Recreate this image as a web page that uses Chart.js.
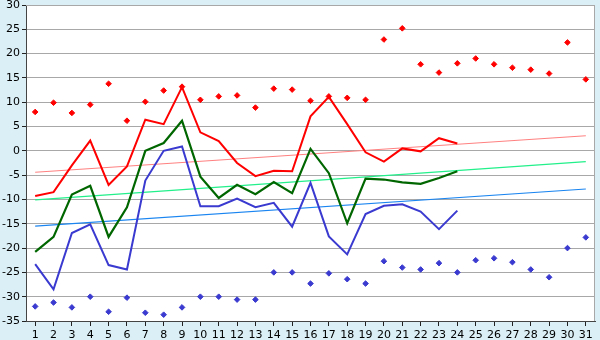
<!DOCTYPE html>
<html>
<head>
<meta charset="utf-8">
<script src="https://cdn.jsdelivr.net/npm/chart.js@4.4.1/dist/chart.umd.min.js"></script>
<style>
  html, body { margin: 0; padding: 0; background: #daeff6; }
  #wrap { width: 600px; height: 340px; }
</style>
</head>
<body>
<div id="wrap"><canvas id="temps" width="600" height="340"></canvas></div>
<script>
"use strict";

// ── Data ──────────────────────────────────────────────────────────────────
const days = Array.from({ length: 31 }, (_, i) => String(i + 1));

const dailyMax = [-9.3, -8.5, -3.0, 2.1, -7.0, -3.2, 6.4, 5.5, 13.1, 3.8,
  2.0, -2.5, -5.2, -4.1, -4.2, 7.1, 11.1, 5.5, -0.3, -2.2,
  0.5, -0.1, 2.6, 1.5];
const dailyMean = [-20.8, -17.7, -9.0, -7.2, -17.7, -11.6, 0.0, 1.6, 6.2, -5.3,
  -9.7, -7.0, -8.9, -6.4, -8.7, 0.4, -4.6, -14.9, -5.7, -5.9,
  -6.5, -6.8, -5.6, -4.2];
const dailyMin = [-23.3, -28.5, -16.9, -15.1, -23.5, -24.4, -6.1, 0.0, 0.9, -11.4,
  -11.4, -9.8, -11.6, -10.7, -15.6, -6.6, -17.6, -21.3, -13.0, -11.3,
  -11.0, -12.5, -16.1, -12.3];

const recordMax = [8.0, 9.9, 7.8, 9.5, 13.8, 6.2, 10.1, 12.4, 13.2, 10.5,
  11.2, 11.4, 8.9, 12.8, 12.6, 10.3, 11.2, 10.9, 10.5, 22.9,
  25.2, 17.8, 16.1, 18.0, 19.0, 17.8, 17.1, 16.7, 15.9, 22.3, 14.7];
const recordMin = [-32.0, -31.2, -32.2, -30.0, -33.1, -30.2, -33.3, -33.7, -32.2, -30.0,
  -30.0, -30.6, -30.6, -25.0, -25.0, -27.3, -25.2, -26.4, -27.3, -22.7,
  -24.0, -24.4, -23.1, -25.0, -22.5, -22.1, -22.9, -24.4, -26.0, -20.0, -17.8];

// trend line end points (day 1 and day 31)
const trendMax  = [-4.4, 3.1];
const trendMean = [-10.1, -2.2];
const trendMin  = [-15.5, -7.85];

const yTicks = { min: -35, max: 30, step: 5 };

function endpoints(pair) {
  const arr = new Array(days.length).fill(null);
  arr[0] = pair[0];
  arr[arr.length - 1] = pair[1];
  return arr;
}

// ── Plot background: white plot area, grey frame on top/right ─────────────
const plotFrame = {
  id: "plotFrame",
  beforeDraw(chart) {
    const { ctx, chartArea: a } = chart;
    ctx.save();
    ctx.fillStyle = "#daeff6";
    ctx.fillRect(0, 0, chart.width, chart.height);
    ctx.fillStyle = "#ffffff";
    ctx.fillRect(a.left, a.top, a.right - a.left, a.bottom - a.top);
    ctx.restore();
  },
  afterDraw(chart) {
    const { ctx, chartArea: a } = chart;
    ctx.save();
    ctx.strokeStyle = "#a8a8a8";
    ctx.lineWidth = 1;
    ctx.beginPath();
    ctx.moveTo(a.left, a.top + 0.5);
    ctx.lineTo(a.right - 0.5, a.top + 0.5);
    ctx.lineTo(a.right - 0.5, a.bottom);
    ctx.stroke();
    ctx.restore();
  }
};

const lineStyle = (color, width) => ({
  borderColor: color,
  backgroundColor: color,
  borderWidth: width,
  pointRadius: 0,
  tension: 0,
  fill: false,
});

const dotStyle = (color) => ({
  borderColor: color,
  backgroundColor: color,
  showLine: false,
  pointStyle: "rectRot",
  pointRadius: 2.8,
  pointBorderWidth: 1,
});

new Chart(document.getElementById("temps"), {
  type: "line",
  data: {
    labels: days,
    datasets: [
      { data: dailyMax,  ...lineStyle("#ff0000", 2) },
      { data: dailyMean, ...lineStyle("#006600", 2.2) },
      { data: dailyMin,  ...lineStyle("#3a3ad0", 2) },
      { data: recordMax, ...dotStyle("#ff0000") },
      { data: recordMin, ...dotStyle("#3a3ad0") },
      { data: endpoints(trendMax),  spanGaps: true, ...lineStyle("#ff8080", 1.2) },
      { data: endpoints(trendMean), spanGaps: true, ...lineStyle("#22f08a", 1.2) },
      { data: endpoints(trendMin),  spanGaps: true, ...lineStyle("#1a85f0", 1.2) },
    ],
  },
  options: {
    responsive: false,
    animation: false,
    layout: { padding: { top: 0, right: 5, left: 0, bottom: 0 } },
    plugins: {
      legend: { display: false },
      tooltip: { enabled: false },
    },
    scales: {
      x: {
        offset: true,
        grid: {
          drawOnChartArea: false,
          drawTicks: true,
          tickLength: 5,
          tickColor: "#222",
        },
        border: { color: "#444", width: 1 },
        ticks: {
          color: "#000",
          font: { family: "DejaVu Sans", size: 11 },
          maxRotation: 0,
          autoSkip: false,
          padding: 3,
        },
        afterFit(scale) { scale.height = 19; },
      },
      y: {
        min: yTicks.min,
        max: yTicks.max,
        grid: {
          color: "#a8a8a8",
          lineWidth: 1,
          tickLength: 4,
          tickColor: "#222",
        },
        border: { color: "#444", width: 1 },
        ticks: {
          stepSize: yTicks.step,
          color: "#000",
          font: { family: "DejaVu Sans", size: 11 },
          padding: 2,
        },
        afterFit(scale) {
          scale.width = 26;
          scale.paddingTop = 5;
        },
      },
    },
  },
  plugins: [plotFrame],
});
</script>
</body>
</html>
